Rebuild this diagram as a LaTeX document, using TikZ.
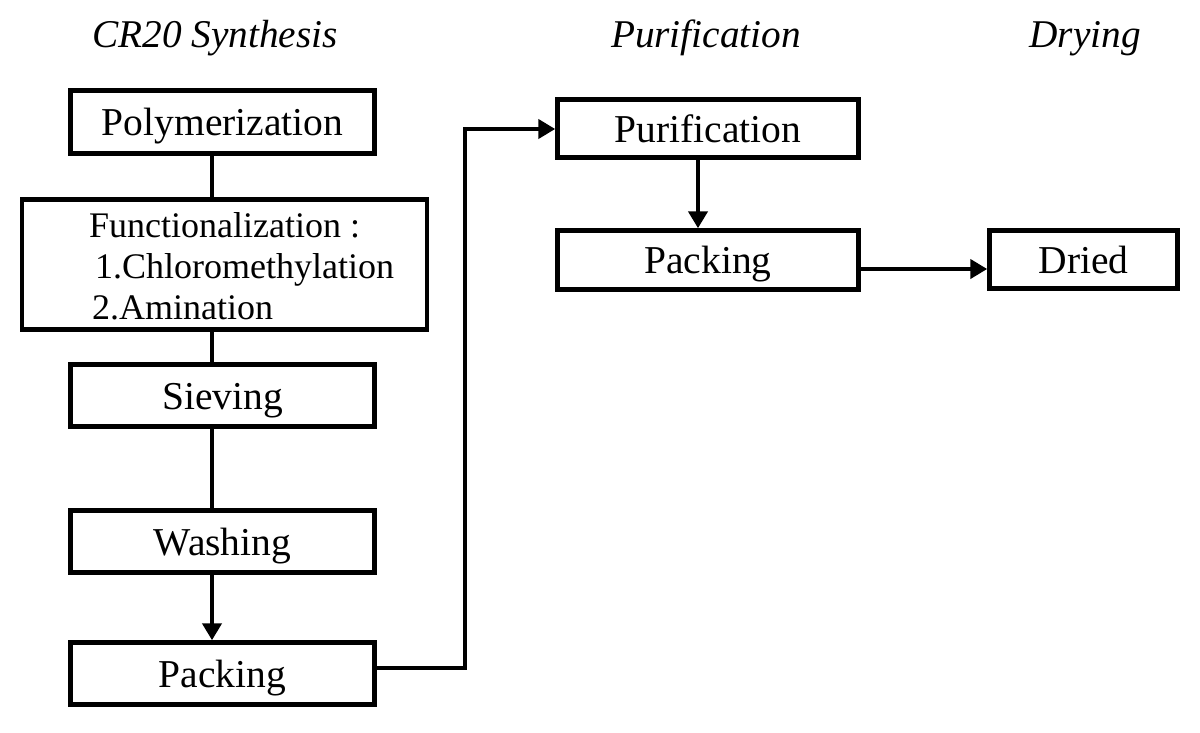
\documentclass[tikz,border=0pt]{standalone}
\usepackage{fontspec}
\setmainfont{Liberation Serif}
\usetikzlibrary{arrows.meta,calc}
\begin{document}
\begin{tikzpicture}[x=1pt,y=-1pt,
  box/.style={draw,line width=4.5pt,rectangle,inner sep=0pt,text height=27pt,text depth=0pt,font=\fontsize{39.5}{44}\selectfont},
  lbl/.style={inner sep=0pt,font=\fontsize{36}{41}\selectfont},
  title/.style={inner sep=0pt,anchor=base,font=\fontsize{39.3}{44}\selectfont\itshape},
  conn/.style={line width=4.5pt},
  tip/.style={-{Triangle[length=17pt,width=19pt]}},
  arr/.style={conn,tip}]
\useasboundingbox (0,0) rectangle (1200,732);
\fill[white] (0,0) rectangle (1200,732);
% titles
\node[title] (t1) at (215,47) {CR20 Synthesis};
\node[title] (t2) at (706,47) {Purification};
\node[title] (t3) at (1085,47) {Drying};
% left column
\node[box,minimum width=304pt,minimum height=63pt] (poly) at (222.5,122) {Polymerization};
\node[box,minimum width=405pt,minimum height=130pt] (func) at (224.5,264.5) {};
\node[lbl,anchor=north west,align=left] (functext) at (89,212) {Functionalization :\\\hspace{6pt}1.Chloromethylation\\\hspace{3pt}2.Amination};
\node[box,minimum width=304pt,minimum height=62pt] (siev) at (222.5,395.5) {Sieving};
\node[box,minimum width=304pt,minimum height=62pt] (wash) at (222.5,541.5) {Washing};
\node[box,minimum width=304pt,minimum height=62pt] (packl) at (222.5,673.5) {Packing};
% middle column
\node[box,minimum width=301pt,minimum height=58pt] (puri) at (708,128.5) {Purification};
\node[box,minimum width=301pt,minimum height=59pt] (packr) at (708,260) {Packing};
% right
\node[box,minimum width=188pt,minimum height=58pt] (dried) at (1083.5,259.5) {Dried};
% connectors
\draw[conn] (poly.south -| 212,0) -- (func.north -| 212,0);
\draw[conn] (func.south -| 212,0) -- (siev.north -| 212,0);
\draw[conn] (siev.south -| 212,0) -- (wash.north -| 212,0);
\draw[arr] (wash.south -| 212,0) -- (packl.north -| 212,0);
\coordinate (bend1) at (465,668);
\coordinate (bend2) at (465,129);
\draw[arr] (packl.east |- bend1) -- (bend1) -- (bend2) -- (puri.west |- bend2);
\draw[arr] (puri.south -| 698,0) -- (packr.north -| 698,0);
\draw[arr] ($(packr.east)+(0,9)$) -- ($(dried.west)+(0,9.5)$);
\end{tikzpicture}
\end{document}
